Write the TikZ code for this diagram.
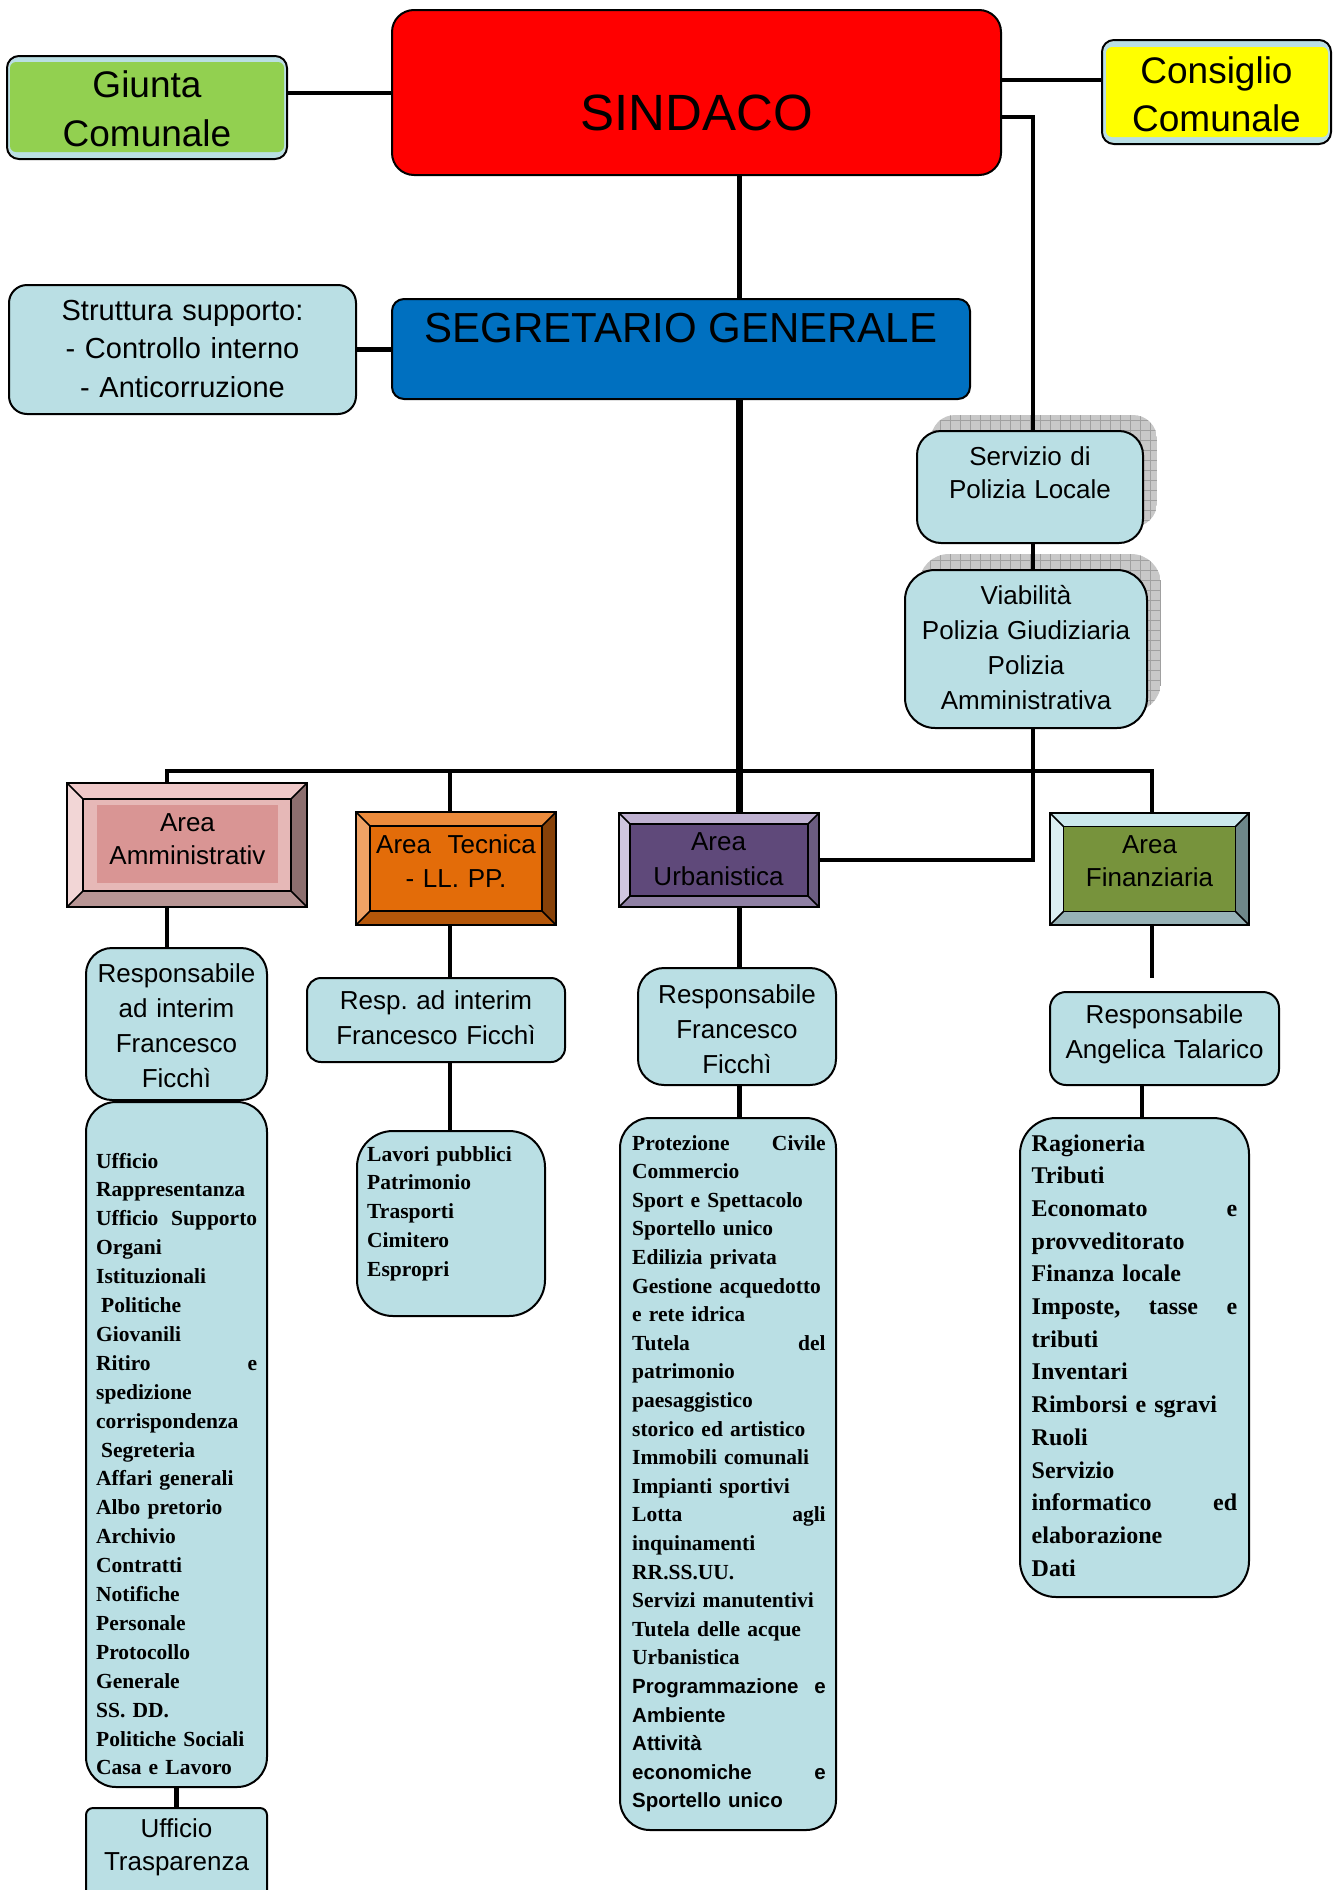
\documentclass[tikz,border=0pt]{standalone}
\usepackage{fontspec}
\setmainfont{Liberation Serif}
\setsansfont{Liberation Sans}
\frenchspacing
\definecolor{lb}{RGB}{186,223,228}
\definecolor{sred}{RGB}{255,0,0}
\definecolor{sblue}{RGB}{0,112,192}
\definecolor{jgreen}{RGB}{146,208,80}
\definecolor{cyell}{RGB}{255,255,0}
\definecolor{shgrey}{RGB}{200,200,200}
\definecolor{shline}{RGB}{160,160,160}
\definecolor{ammT}{RGB}{239,200,200}
\definecolor{ammL}{RGB}{242,214,214}
\definecolor{ammR}{RGB}{140,110,110}
\definecolor{ammB}{RGB}{184,149,148}
\definecolor{ammF}{RGB}{230,184,183}
\definecolor{ammI}{RGB}{217,149,148}
\definecolor{tecT}{RGB}{236,139,60}
\definecolor{tecL}{RGB}{240,162,101}
\definecolor{tecR}{RGB}{135,65,8}
\definecolor{tecB}{RGB}{181,87,10}
\definecolor{tecF}{RGB}{227,108,9}
\definecolor{urbT}{RGB}{191,177,209}
\definecolor{urbL}{RGB}{207,198,223}
\definecolor{urbR}{RGB}{107,92,128}
\definecolor{urbB}{RGB}{143,128,164}
\definecolor{urbF}{RGB}{95,73,122}
\definecolor{finT}{RGB}{204,232,236}
\definecolor{finL}{RGB}{220,239,242}
\definecolor{finR}{RGB}{110,135,137}
\definecolor{finB}{RGB}{151,178,182}
\definecolor{finF}{RGB}{119,147,60}
\newcommand{\bevelbox}[6]{%
  \fill[#6T] (#1,#2) -- (#3,#2) -- ({#3-#5},{#2+#5}) -- ({#1+#5},{#2+#5}) -- cycle;
  \fill[#6B] (#1,#4) -- (#3,#4) -- ({#3-#5},{#4-#5}) -- ({#1+#5},{#4-#5}) -- cycle;
  \fill[#6L] (#1,#2) -- ({#1+#5},{#2+#5}) -- ({#1+#5},{#4-#5}) -- (#1,#4) -- cycle;
  \fill[#6R] (#3,#2) -- ({#3-#5},{#2+#5}) -- ({#3-#5},{#4-#5}) -- (#3,#4) -- cycle;
  \fill[#6F] ({#1+#5},{#2+#5}) rectangle ({#3-#5},{#4-#5});
  \draw[bevelline] (#1,#2) -- ({#1+#5},{#2+#5}) (#3,#2) -- ({#3-#5},{#2+#5})
     (#3,#4) -- ({#3-#5},{#4-#5}) (#1,#4) -- ({#1+#5},{#4-#5});
  \draw[bevelline] ({#1+#5},{#2+#5}) rectangle ({#3-#5},{#4-#5});
}
\newcommand{\gridshadow}[5]{%
  \begin{scope}
    \clip[rounded corners=#5] (#1,#2) rectangle (#3,#4);
    \fill[shgrey] (#1,#2) rectangle (#3,#4);
    \draw[shline, line width=0.8pt, step=10pt] (#1,#4) grid (#3,#2);
  \end{scope}}
\begin{document}
\begin{tikzpicture}[x=1pt,y=-1pt,
  boxline/.style={draw=black,line width=2pt},
  rbox/.style={boxline,fill=lb,inner sep=0pt,rounded corners=#1},
  rbox/.default=20pt,
  conn/.style={draw=black,line width=4.5pt},
  thickconn/.style={draw=black,line width=7pt},
  st/.style 2 args={inner sep=0pt,anchor=base,align=center,font=\sffamily\fontsize{#1}{#2}\selectfont},
  lst/.style 2 args={inner sep=0pt,anchor=base west,align=left,font=\bfseries\fontsize{#1}{#2}\selectfont},
  bevelline/.style={draw=black,line width=1.5pt},
  areanode/.style={draw=black,line width=2pt,inner sep=0pt,fill=none},
]
\useasboundingbox[fill=white] (0,0) rectangle (1336,1890);

% shadows
\gridshadow{931}{415}{1157}{527}{24pt}
\gridshadow{919}{554}{1161}{712}{30pt}

% top level
\node[rbox=12pt, draw=none, minimum width=278pt, minimum height=101pt] (giunta) at (147,107.5) {};
\fill[jgreen, rounded corners=6pt] (10,62) rectangle (284,152);
\draw[boxline, rounded corners=12pt] (giunta.north west) rectangle (giunta.south east);
\node[rbox=22pt, fill=sred, minimum width=609pt, minimum height=165pt] (sindaco) at (696.5,92.5) {};
\node[rbox=12pt, draw=none, minimum width=227pt, minimum height=102pt] (consiglio) at (1216.5,92) {};
\fill[cyell, rounded corners=6pt] (1106,47) rectangle (1328,137);
\draw[boxline, rounded corners=12pt] (consiglio.north west) rectangle (consiglio.south east);
\node[rbox=18pt, minimum width=347pt, minimum height=129pt] (strutt) at (182.5,349.5) {};
\node[rbox=12pt, fill=sblue, minimum width=578pt, minimum height=100pt] (segr) at (681,349) {};
\node[rbox=24pt, minimum width=226pt, minimum height=112pt] (polizia) at (1030,487) {};
\node[rbox=30pt, minimum width=242pt, minimum height=158pt] (viab) at (1026,649) {};

% areas
\bevelbox{67}{783}{307}{907}{16}{amm}
\fill[ammI] (97,805) rectangle (278,883);
\node[areanode, minimum width=240pt, minimum height=124pt] (amm) at (187,845) {};
\bevelbox{356}{812}{556}{925}{14}{tec}
\node[areanode, minimum width=200pt, minimum height=113pt] (tec) at (456,868.5) {};
\bevelbox{619}{813}{819}{907}{11}{urb}
\node[areanode, minimum width=200pt, minimum height=94pt] (urb) at (719,860) {};
\bevelbox{1050}{813}{1249}{925}{13.5}{fin}
\node[areanode, minimum width=199pt, minimum height=112pt] (fin) at (1149.5,869) {};

% responsible and lists
\node[rbox=26pt, minimum width=181pt, minimum height=152pt] (respamm) at (176.5,1024) {};
\node[rbox=14pt, minimum width=258pt, minimum height=84pt] (resptec) at (436,1020) {};
\node[rbox=26pt, minimum width=198pt, minimum height=117pt] (respurb) at (737,1026.5) {};
\node[rbox=16pt, minimum width=229pt, minimum height=93pt] (respfin) at (1164.5,1038.5) {};
\node[rbox=30pt, minimum width=181pt, minimum height=685pt] (ammlist) at (176.5,1444.5) {};
\node[rbox=36pt, minimum width=188pt, minimum height=185pt] (lavori) at (451,1223.5) {};
\node[rbox=30pt, minimum width=216pt, minimum height=712pt] (urblist) at (728,1474) {};
\node[rbox=36pt, minimum width=229pt, minimum height=479pt] (finlist) at (1134.5,1357.5) {};
\node[rbox=7pt, minimum width=181pt, minimum height=92pt] (trasp) at (176.5,1854) {};

% connector columns
\coordinate (cA) at (167,0);
\coordinate (cT) at (450,0);
\coordinate (cU) at (739.5,0);
\coordinate (cP) at (1033,0);
\coordinate (cF) at (1152,0);
\coordinate (cF2) at (1142,0);
\coordinate (busy) at (0,771);
\coordinate (gy) at (0,93);
\coordinate (cy) at (0,80);
\coordinate (py) at (0,117);
\coordinate (finend) at (1152,978);

\draw[conn] (giunta.east |- gy) -- (sindaco.west |- gy);
\draw[conn] (sindaco.east |- cy) -- (consiglio.west |- cy);
\draw[conn] (sindaco.east |- py) -| (cP |- polizia.north);
\draw[conn] (cP |- polizia.south) -- (cP |- viab.north);
\draw[conn] (cP |- viab.south) |- (urb.east);
\draw[conn] (cU |- sindaco.south) -- (cU |- segr.north);
\draw[conn] (strutt.east) -- (strutt.east -| segr.west);
\draw[thickconn] (cU |- segr.south) -- (cU |- urb.north);
\draw[conn] (cA |- amm.north) -- (cA |- busy) -- (cF |- busy) -- (cF |- fin.north);
\draw[conn] (cT |- busy) -- (cT |- tec.north);
\draw[conn] (cA |- amm.south) -- (cA |- respamm.north);
\draw[conn] (cT |- tec.south) -- (cT |- resptec.north);
\draw[conn] (cT |- resptec.south) -- (cT |- lavori.north);
\draw[conn] (cU |- urb.south) -- (cU |- respurb.north);
\draw[conn] (cU |- respurb.south) -- (cU |- urblist.north);
\draw[conn] (cF |- fin.south) -- (finend);
\draw[conn] (cF2 |- respfin.south) -- (cF2 |- finlist.north);
\draw[conn] (ammlist.south) -- (trasp.north);

% texts
\node[st={37pt}{49pt}, text width=278pt] (giunta-t) at (147,97) {Giunta\\Comunale};
\node[st={51pt}{60pt}] (sindaco-t) at (696.5,130) {SINDACO};
\node[st={37pt}{48pt}, text width=227pt] (consiglio-t) at (1216.5,83) {Consiglio\\Comunale};
\node[st={29pt}{38.5pt}, text width=347pt] (strutt-t) at (182.5,320) {Struttura supporto:\\- Controllo interno\\- Anticorruzione};
\node[st={42pt}{50pt}] (segr-t) at (681,342) {SEGRETARIO GENERALE};
\node[st={26pt}{33pt}, text width=226pt] (polizia-t) at (1030,465) {Servizio di\\Polizia Locale};
\node[st={26pt}{35.3pt}, text width=242pt] (viab-t) at (1026,604) {Viabilità\\Polizia Giudiziaria\\Polizia\\Amministrativa};
\node[st={26pt}{33pt}, text width=240pt] (amm-t) at (187.5,831) {Area\\Amministrativ};
\node[st={26pt}{34.5pt}, text width=200pt] (tec-t) at (456,853) {Area\hspace{0.3em} Tecnica\\- LL. PP.};
\node[st={26pt}{35pt}, text width=200pt] (urb-t) at (718.5,850) {Area\\Urbanistica};
\node[st={26pt}{33pt}, text width=199pt] (fin-t) at (1149.5,853) {Area\\Finanziaria};
\node[st={26pt}{35.3pt}, text width=181pt] (respamm-t) at (176.5,982) {Responsabile\\ad interim\\Francesco\\Ficchì};
\node[st={26pt}{35pt}, text width=258pt] (resptec-t) at (436,1009) {Resp. ad interim\\Francesco Ficchì};
\node[st={26pt}{35pt}, text width=198pt] (respurb-t) at (737,1003) {Responsabile\\Francesco\\Ficchì};
\node[st={26pt}{35pt}, text width=229pt] (respfin-t) at (1164.5,1023) {Responsabile\\Angelica Talarico};
\node[st={26pt}{33pt}, text width=181pt] (trasp-t) at (176.5,1837) {Ufficio\\Trasparenza};

\node[lst={21.5pt}{28.9pt}, text width=161pt] (ammlist-t) at (96,1168) {Ufficio\\
Rappresentanza\\
Ufficio\hfill Supporto\\
Organi\\
Istituzionali\\
\hspace*{5pt}Politiche\\
Giovanili\\
Ritiro\hfill e\\
spedizione\\
corrispondenza\\
\hspace*{5pt}Segreteria\\
Affari generali\\
Albo pretorio\\
Archivio\\
Contratti\\
Notifiche\\
Personale\\
Protocollo\\
Generale\\
SS. DD.\\
Politiche Sociali\\
Casa e Lavoro};

\node[lst={21.5pt}{28.8pt}, text width=175pt] (lavori-t) at (367,1161) {Lavori pubblici\\
Patrimonio\\
Trasporti\\
Cimitero\\
Espropri};

\node[lst={21.5pt}{28.6pt}, text width=193.5pt] (urblist-t) at (632,1150) {Protezione\hfill Civile\\
Commercio\\
Sport e Spettacolo\\
Sportello unico\\
Edilizia privata\\
Gestione acquedotto\\
e rete idrica\\
Tutela\hfill del\\
patrimonio\\
paesaggistico\\
storico ed artistico\\
Immobili comunali\\
Impianti sportivi\\
Lotta\hfill agli\\
inquinamenti\\
RR.SS.UU.\\
Servizi manutentivi\\
Tutela delle acque\\
Urbanistica\\
\sffamily\fontsize{20.5pt}{28.6pt}\selectfont Programmazione\hfill e\\
Ambiente\\
Attività\\
economiche\hfill e\\
Sportello unico};

\node[lst={24pt}{32.7pt}, text width=205.5pt] (finlist-t) at (1031.5,1151) {Ragioneria\\
Tributi\\
Economato\hfill e\\
provveditorato\\
Finanza locale\\
Imposte,\hfill tasse\hfill e\\
tributi\\
Inventari\\
Rimborsi e sgravi\\
Ruoli\\
Servizio\\
informatico\hfill ed\\
elaborazione\\
Dati};
\end{tikzpicture}
\end{document}
